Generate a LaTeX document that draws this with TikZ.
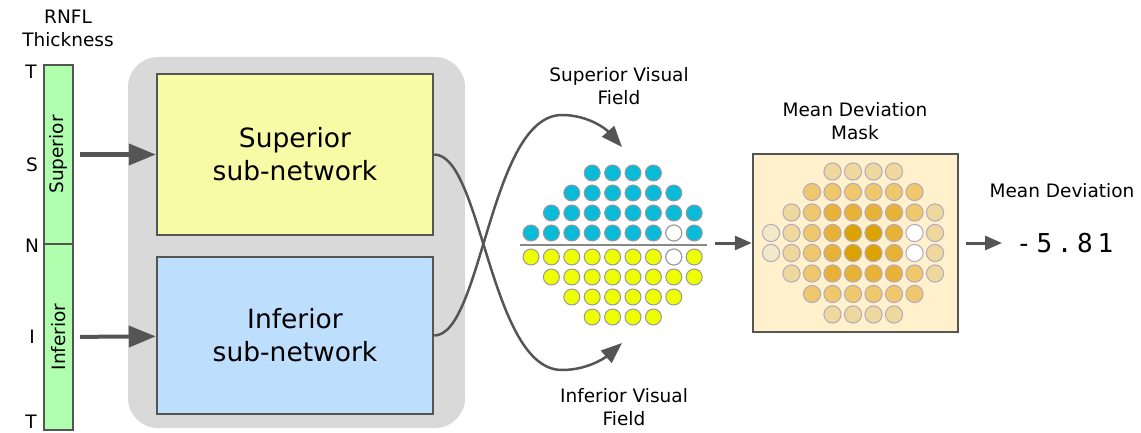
\documentclass[tikz,border=0pt]{standalone}
\usepackage{fontspec}
\setmainfont{DejaVu Sans}
\newfontfamily\mdmono[LetterSpace=18]{DejaVu Sans Mono}
\usetikzlibrary{arrows.meta}
\definecolor{edgegray}{HTML}{555555}
\definecolor{bggray}{HTML}{D9D9D9}
\definecolor{rnflgreen}{HTML}{AFFFAF}
\definecolor{supyellow}{HTML}{F7FBA6}
\definecolor{infblue}{HTML}{BEDEFD}
\definecolor{vfblue}{HTML}{0ABBD9}
\definecolor{vfyellow}{HTML}{EEFF00}
\definecolor{vfedge}{HTML}{999999}
\definecolor{vfline}{HTML}{888888}
\definecolor{maskbg}{HTML}{FFF1CC}
\definecolor{maskedge}{HTML}{B4A9BE}
\definecolor{mA}{HTML}{F2E9C8}
\definecolor{mB}{HTML}{EFD89E}
\definecolor{mC}{HTML}{EFC86E}
\definecolor{mD}{HTML}{E8B236}
\definecolor{mE}{HTML}{DCA200}
\tikzset{
  lbl/.style={font=\fontsize{18.5}{23}\selectfont, align=center, inner sep=0pt},
  tick/.style={font=\fontsize{18.5}{23}\selectfont, inner sep=0pt},
  rnflbar/.style={draw=edgegray, line width=2pt, fill=rnflgreen, minimum width=29, inner sep=0pt, font=\fontsize{18.5}{22}\selectfont},
  netbox/.style={draw=edgegray, line width=2.5pt, minimum width=276, font=\fontsize{26.5}{33}\selectfont, align=center},
  bigarrow/.style={draw=edgegray, line width=4pt, -{Triangle[length=27pt,width=21pt]}},
  curvearrow/.style={draw=edgegray, line width=2.5pt, -{Triangle[length=21pt,width=16pt]}},
  midarrow/.style={draw=edgegray, line width=3pt, -{Triangle[length=17pt,width=14pt]}},
  vfdot/.style={draw=vfedge, line width=1pt},
  mdot/.style={draw=maskedge, line width=1pt}
}
\begin{document}
\begin{tikzpicture}[x=1pt,y=1pt]
\useasboundingbox (0,0) rectangle (1141,432);
\node[lbl] (rnfltitle) at (68,404) {RNFL\\Thickness};
\node[rnflbar, minimum height=179] (rnflsup) at (58.5,277.5) {\rotatebox{90}{Superior}};
\node[rnflbar, minimum height=186] (rnflinf) at (58.5,95) {\rotatebox{90}{Inferior}};
\node[tick] (tT) at (31,360) {T};
\node[tick] (tS) at (32,267) {S};
\node[tick] (tN) at (32,186) {N};
\node[tick] (tI) at (32,95) {I};
\node[tick] (tB) at (31,10) {T};
\node[fill=bggray, rounded corners=30pt, minimum width=337, minimum height=371, inner sep=0pt] (netbg) at (296.5,189.5) {};
\node[netbox, fill=supyellow, minimum height=161] (supnet) at (295,277.5) {Superior\\sub-network};
\node[netbox, fill=infblue, minimum height=157] (infnet) at (295,96.5) {Inferior\\sub-network};
\draw[bigarrow, shorten <=6pt] (rnflsup) -- (supnet);
\draw[bigarrow, shorten <=6pt] (rnflinf) -- (infnet);
\coordinate (lowtip) at (622,89);
\coordinate (uptip) at (622,285);
\draw[curvearrow] (supnet.east) .. controls (482,277.5) and (490,62) .. (562,62) .. controls (588,62) and (606,75) .. (lowtip);
\draw[curvearrow] (infnet.east) .. controls (482,96.5) and (490,317) .. (562,317) .. controls (588,317) and (606,303) .. (uptip);
\node[lbl] (supvf) at (619,346) {Superior Visual\\Field};
\node[lbl] (infvf) at (624,25) {Inferior Visual\\Field};
\draw[vfline, line width=2pt] (520,187) -- (707,187);
\foreach \s/\fc in {1/vfblue,-1/vfyellow}
  \foreach \dy/\a/\b in {12/0/8,32/1/8,52/2/7,72/3/6}
    \foreach \k in {\a,...,\b}
      \filldraw[vfdot, fill=\fc] (531+20.4*\k,187+\s*\dy) circle (8);
\filldraw[vfdot, fill=white] (673.8,199) circle (8);
\filldraw[vfdot, fill=white] (673.8,175) circle (8);
\node[draw=edgegray, line width=2.5pt, fill=maskbg, minimum width=205, minimum height=178, inner sep=0pt] (mask) at (855.5,189) {};
\foreach \s in {1,-1}
  \foreach \dy/\a/\shades in {10/0/{mA,mB,mC,mD,mE,mE,mD,white,mB},30.5/1/{mB,mC,mD,mD,mD,mD,mC,mB},51/2/{mC,mC,mC,mC,mC,mC},71.5/3/{mB,mB,mB,mB}}
    \foreach \fc [count=\k from \a] in \shades
      \filldraw[mdot, fill=\fc] (771+20.5*\k,189+\s*\dy) circle (8.6);
\coordinate (vfout) at (715,189);
\draw[midarrow] (vfout) -- (mask);
\node[lbl] (masktitle) at (855,311) {Mean Deviation\\Mask};
\node[lbl] (mdtitle) at (1062,241) {Mean Deviation};
\node[inner sep=0pt, anchor=west, font=\mdmono\fontsize{26}{30}\selectfont] (mdval) at (1016,189) {-5.81};
\draw[midarrow, shorten <=7pt, shorten >=14pt] (mask) -- (mdval);
\end{tikzpicture}
\end{document}
